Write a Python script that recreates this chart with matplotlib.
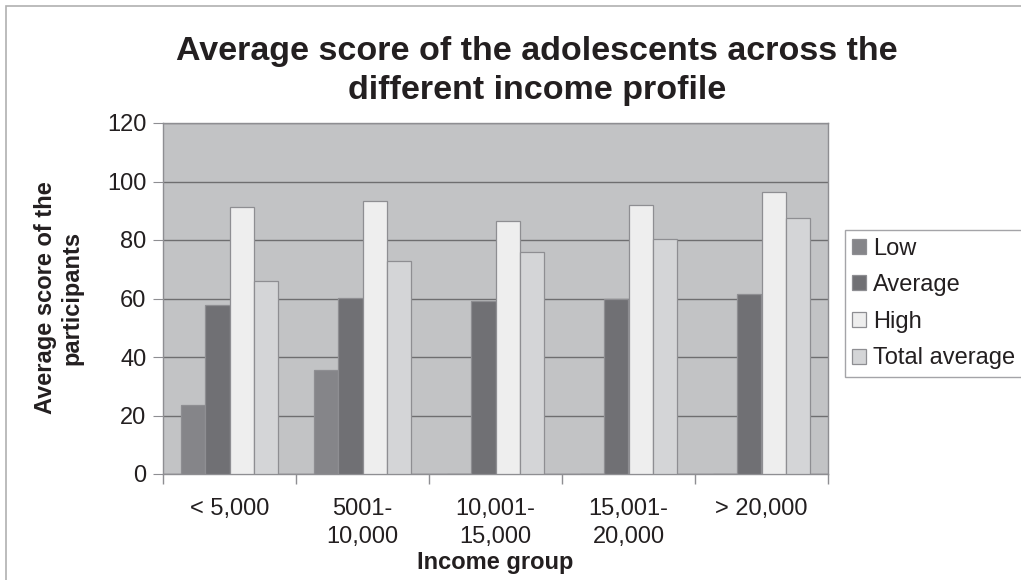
import matplotlib.pyplot as plt
import numpy as np
from matplotlib.patches import Rectangle

categories = ["< 5,000", "5001-\n10,000", "10,001-\n15,000", "15,001-\n20,000", "> 20,000"]
series_names = ["Low", "Average", "High", "Total average"]
low = [23.7, 35.7, 0, 0, 0]
average = [57.8, 60.2, 59.2, 59.7, 61.4]
high = [91.2, 93.2, 86.4, 92.1, 96.3]
total_average = [65.9, 72.8, 75.9, 80.2, 87.4]
colors = ["#858589", "#707074", "#eeeeee", "#d4d5d7"]

plt.rcParams['font.family'] = ['Liberation Sans', 'DejaVu Sans']

W, H = 1021, 580
fig = plt.figure(figsize=(W / 100, H / 100), dpi=100)
ax_l, ax_r, ax_t, ax_b = 163, 828, 123, 474
ax = fig.add_axes([ax_l / W, 1 - ax_b / H, (ax_r - ax_l) / W, (ax_b - ax_t) / H])

# outer chart border
fig.patches.append(Rectangle((6 / W, -0.05), 1.1, 1 - 6 / H + 0.05, transform=fig.transFigure,
                             fill=False, edgecolor="#b0b0b0", linewidth=1.2))

x = np.arange(len(categories))
w = 0.182
data = [low, average, high, total_average]
for i, (name, vals, c) in enumerate(zip(series_names, data, colors)):
    ax.bar(x + (i - 1.5) * w, vals, w, color=c, edgecolor="#8e8e92", linewidth=0.9,
           label=name, zorder=3)

ax.set_facecolor("#c2c3c5")
ax.set_ylim(0, 120)
ax.set_xlim(-0.5, len(categories) - 0.5)
ax.set_yticks(np.arange(0, 121, 20))
ax.yaxis.grid(True, color="#6e6e70", linewidth=1.0, zorder=1)
ax.set_axisbelow(True)
ax.set_xticks(x)
ax.set_xticklabels(categories, fontsize=17, color="#231f20", linespacing=1.4)
ax.tick_params(axis='x', length=0, pad=17)
ax.set_xticks(np.arange(-0.5, len(categories), 1.0), minor=True)
ax.tick_params(axis='x', which='minor', length=7, color="#8e8e92", width=1)
ax.tick_params(axis='y', labelsize=17, length=7, color="#8e8e92", labelcolor="#231f20", pad=5)
for s in ax.spines.values():
    s.set_color("#8e8e92")
    s.set_linewidth(1.0)

fig.text(537 / W, 1 - 71 / H, "Average score of the adolescents across the\ndifferent income profile",
         ha="center", va="center", fontsize=24.5, fontweight="bold", color="#231f20", linespacing=1.35)
fig.text(59 / W, 1 - 298 / H, "Average score of the\nparticipants", rotation=90, ha="center", va="center",
         fontsize=17, fontweight="bold", color="#231f20", linespacing=1.2)
fig.text(495 / W, 1 - 563 / H, "Income group", ha="center", va="center",
         fontsize=17, fontweight="bold", color="#231f20")

leg = ax.legend(loc="center left", bbox_to_anchor=((845 - ax_l) / (ax_r - ax_l), 0.5 - 5 / 351),
                fontsize=17, frameon=True, fancybox=False, edgecolor="#8e8e92",
                handlelength=0.6, handleheight=0.6, handletextpad=0.3, labelspacing=0.62,
                borderpad=0.3, borderaxespad=0)
for t in leg.get_texts():
    t.set_color("#231f20")
leg.get_frame().set_linewidth(1.0)

fig.savefig("out.png", dpi=100)
